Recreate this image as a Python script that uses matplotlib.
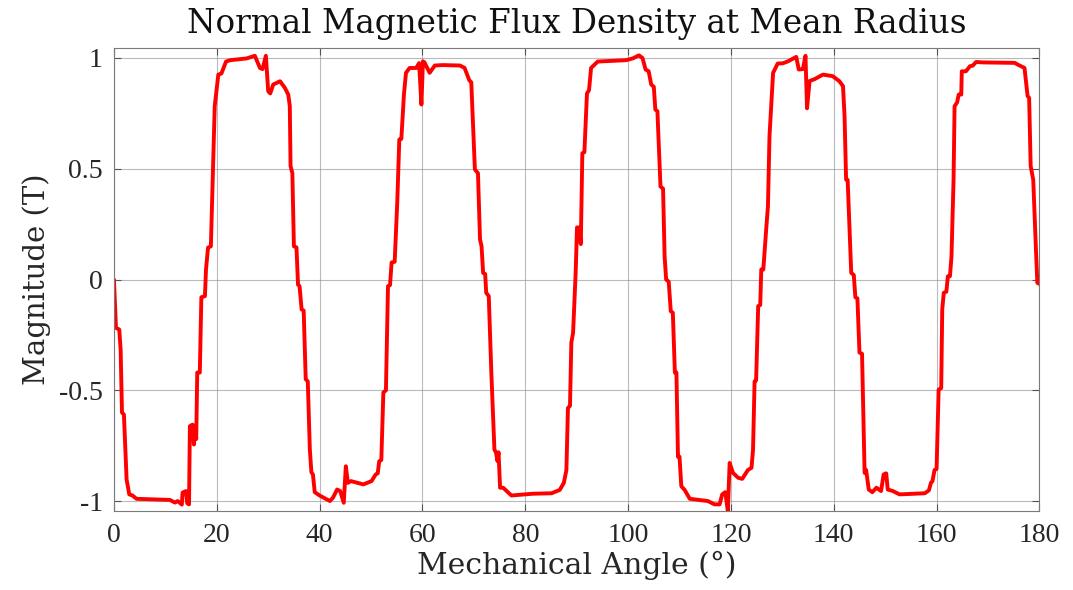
import numpy as np
import matplotlib
matplotlib.use("Agg")
import matplotlib.pyplot as plt

# mechanical angle (deg) and normal flux density (T)
angle = [
    0, 0.39, 1.03, 1.3, 1.56, 1.94, 2.46, 2.98, 3.6, 4.4, 10.9, 11.86, 12.4, 13.2,
    13.35, 14.0, 14.25, 14.6, 14.77, 15.3, 15.55, 15.8, 16.0, 16.2, 16.7, 17.0,
    17.7, 17.9, 18.3, 18.85, 19.6, 20.3, 20.9, 21.8, 22.6, 25.8, 27.4, 28.4, 28.9,
    29.55, 30.0, 30.4, 30.97, 32.3, 33.25, 33.9, 34.2, 34.35, 34.7, 35.0, 35.5,
    35.8, 36.1, 36.5, 36.9, 37.3, 37.7, 38.1, 38.4, 38.7, 39.05, 40.0, 42.0, 42.6,
    43.4, 44.0, 44.7, 45.1, 45.5, 46.1, 48.5, 50.1, 50.9, 51.3, 51.6, 52.0, 52.4,
    52.9, 53.3, 53.7, 54.0, 54.6, 55.1, 55.5, 55.9, 56.4, 56.8, 57.5, 58.8, 59.35,
    59.8, 60.1, 60.4, 61.4, 62.4, 64.0, 67.3, 68.2, 69.1, 69.5, 70.2, 70.8, 71.2,
    71.5, 71.8, 72.2, 72.4, 72.9, 73.4, 74.0, 74.3, 74.6, 74.8, 75.1, 75.7, 76.6,
    77.3, 81.5, 85.1, 86.7, 87.5, 88.0, 88.3, 88.7, 88.96, 89.3, 89.8, 90.06, 90.5,
    90.8, 91.1, 91.5, 92.0, 92.4, 92.8, 94.1, 99.6, 100.9, 102.1, 102.8, 103.4,
    104.0, 104.5, 105.0, 105.3, 105.7, 106.3, 106.8, 107.1, 107.4, 107.9, 108.3,
    108.7, 109.1, 109.4, 109.7, 110.0, 110.35, 111.0, 112.0, 115.5, 116.8, 117.8,
    118.3, 118.9, 119.4, 119.75, 120.4, 121.4, 122.2, 123.3, 124.0, 124.3, 124.6,
    124.9, 125.3, 125.7, 125.9, 126.3, 126.9, 127.2, 127.5, 128.2, 129.1, 130.1,
    131.1, 132.7, 133.2, 134.0, 134.5, 134.8, 135.3, 136.3, 137.9, 139.8, 141.1,
    141.8, 142.1, 142.4, 142.7, 143.4, 143.9, 144.2, 144.6, 145.0, 145.5, 146.0,
    146.3, 146.8, 147.5, 148.3, 149.2, 149.7, 150.2, 150.5, 151.5, 152.8, 157.7,
    158.5, 158.9, 159.2, 159.6, 160.0, 160.4, 160.9, 161.1, 161.4, 161.9, 162.2,
    162.6, 162.9, 163.3, 163.5, 164.0, 164.3, 164.8, 164.9, 165.7, 166.5, 167.0,
    167.7, 169.0, 175.2, 175.8, 177.1, 177.7, 178.0, 178.3, 178.8, 179.3, 179.6,
    180.0,
]
flux = [
    0, -0.218, -0.226, -0.316, -0.60, -0.61, -0.903, -0.97, -0.975, -0.99, -0.995,
    -1.007, -1.0, -1.016, -0.962, -0.955, -1.01, -1.015, -0.662, -0.655, -0.745,
    -0.67, -0.72, -0.42, -0.42, -0.08, -0.075, 0.045, 0.144, 0.15, 0.783, 0.925,
    0.93, 0.984, 0.99, 0.998, 1.01, 0.955, 0.95, 1.01, 0.85, 0.84, 0.88, 0.895,
    0.865, 0.835, 0.783, 0.512, 0.48, 0.15, 0.145, -0.023, -0.03, -0.135, -0.14,
    -0.45, -0.46, -0.768, -0.87, -0.88, -0.96, -0.975, -1.0, -0.985, -0.948,
    -0.955, -1.008, -0.843, -0.918, -0.91, -0.925, -0.91, -0.88, -0.875, -0.82,
    -0.815, -0.51, -0.5, -0.03, -0.025, 0.077, 0.08, 0.347, 0.632, 0.635, 0.835,
    0.933, 0.955, 0.955, 0.977, 0.79, 0.985, 0.98, 0.933, 0.966, 0.968, 0.966,
    0.955, 0.90, 0.89, 0.497, 0.48, 0.18, 0.15, 0.03, 0.025, -0.06, -0.075, -0.42,
    -0.768, -0.78, -0.82, -0.78, -0.94, -0.94, -0.96, -0.975, -0.967, -0.965,
    -0.95, -0.918, -0.86, -0.58, -0.57, -0.285, -0.24, 0.03, 0.235, 0.235, 0.16,
    0.57, 0.575, 0.84, 0.855, 0.955, 0.984, 0.99, 0.998, 1.012, 1.0, 0.948, 0.94,
    0.88, 0.87, 0.767, 0.76, 0.42, 0.41, 0.105, 0.0, -0.01, -0.143, -0.15, -0.42,
    -0.42, -0.80, -0.80, -0.933, -0.95, -0.99, -1.0, -1.015, -1.015, -0.97, -0.96,
    -1.045, -0.828, -0.873, -0.895, -0.9, -0.86, -0.85, -0.768, -0.46, -0.455,
    -0.12, -0.115, 0.045, 0.045, 0.24, 0.33, 0.647, 0.933, 0.975, 0.976, 0.985,
    1.005, 0.948, 0.95, 1.01, 0.773, 0.896, 0.905, 0.925, 0.918, 0.895, 0.873,
    0.737, 0.451, 0.45, 0.03, 0.02, -0.08, -0.085, -0.33, -0.335, -0.873, -0.86,
    -0.948, -0.96, -0.94, -0.955, -0.88, -0.875, -0.948, -0.955, -0.97, -0.965,
    -0.952, -0.918, -0.91, -0.86, -0.855, -0.497, -0.49, -0.135, -0.06, -0.055,
    0.015, 0.015, 0.105, 0.45, 0.782, 0.80, 0.835, 0.835, 0.94, 0.94, 0.963,
    0.965, 0.982, 0.98, 0.978, 0.97, 0.955, 0.828, 0.82, 0.512, 0.45, 0.15,
    -0.015, -0.02,
]

xticks = [0, 20, 40, 60, 80, 100, 120, 140, 160, 180]
yticks = [-1, -0.5, 0, 0.5, 1]
ytick_labels = ["-1", "-0.5", "0", "0.5", "1"]

plt.rcParams['font.family'] = ['Liberation Serif', 'DejaVu Serif']
plt.rcParams['axes.unicode_minus'] = False
wide = ['DejaVu Serif']

fig = plt.figure(figsize=(10.73, 5.90), dpi=100)
ax = fig.add_axes([0.1062, 0.1339, 0.8625, 0.7847])

ax.plot(angle, flux, color='#ff0000', lw=2.8, solid_capstyle='round',
        solid_joinstyle='round')

ax.set_xlim(0, 180)
ax.set_ylim(-1.045, 1.045)
ax.set_xticks(xticks)
ax.set_yticks(yticks)
ax.set_yticklabels(ytick_labels)
ax.grid(True, color='#8c8c8c', lw=0.8, alpha=0.6)
ax.set_axisbelow(True)

for s in ax.spines.values():
    s.set_color('#7a7a7a')
    s.set_linewidth(0.8)
ax.tick_params(direction='in', length=5, width=0.8, color='#555555',
               top=True, right=True, labelsize=20, labelcolor='#262626')
ax.tick_params(axis='x', pad=9)
ax.tick_params(axis='y', pad=8)

ax.set_title("Normal Magnetic Flux Density at Mean Radius", fontsize=23.5,
             family=wide, color='#111111', pad=11)
ax.set_xlabel("Mechanical Angle (°)", fontsize=21.5, family=wide,
              color='#262626', labelpad=2)
ax.set_ylabel("Magnitude (T)", fontsize=21, family=wide, color='#262626',
              labelpad=6)

fig.savefig("out.png", dpi=100)
